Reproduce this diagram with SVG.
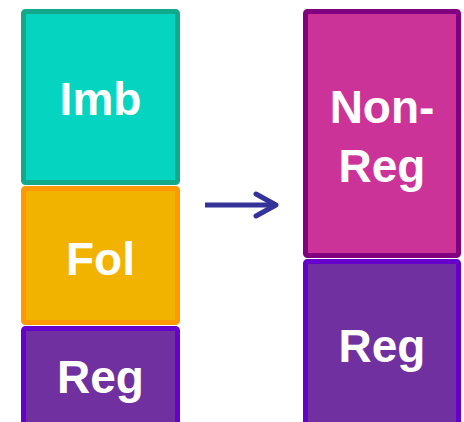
<svg xmlns="http://www.w3.org/2000/svg" width="464" height="422" viewBox="0 0 464 422">
<defs>
<style>
.box{stroke-width:5;stroke-linejoin:round}
.lbl{font-family:"Liberation Sans",Arial,sans-serif;font-weight:bold;font-size:46px;fill:#ffffff;text-anchor:middle}
</style>
</defs>
<rect width="464" height="422" fill="#ffffff"/>
<g id="imb"><rect class="box" x="23.5" y="11.5" width="154" height="171" rx="2" fill="#05D5C0" stroke="#12A88A"/><text class="lbl" x="100.5" y="115">Imb</text></g>
<g id="fol"><rect class="box" x="23.5" y="188.5" width="154" height="134" rx="2" fill="#F2B300" stroke="#FF9900"/><text class="lbl" x="100.5" y="275">Fol</text></g>
<g id="reg-left"><rect class="box" x="23.5" y="328.5" width="154" height="120" rx="2" fill="#7030A0" stroke="#6600CC"/><text class="lbl" x="100.5" y="393">Reg</text></g>
<g id="nonreg"><rect class="box" x="305.5" y="11.5" width="153" height="244" rx="2" fill="#CC3399" stroke="#800080"/><text class="lbl" x="382" y="123">Non-</text><text class="lbl" x="382" y="182">Reg</text></g>
<g id="reg-right"><rect class="box" x="305.5" y="261.5" width="153" height="190" rx="2" fill="#7030A0" stroke="#6600CC"/><text class="lbl" x="382" y="362">Reg</text></g>
<g id="connectors" fill="none" stroke="#333399" stroke-width="5" stroke-linecap="round" stroke-linejoin="round">
<line x1="205" y1="205" x2="275" y2="205" stroke-linecap="butt"/>
<polyline points="256,194 276,205 256,216"/>
</g>
</svg>
